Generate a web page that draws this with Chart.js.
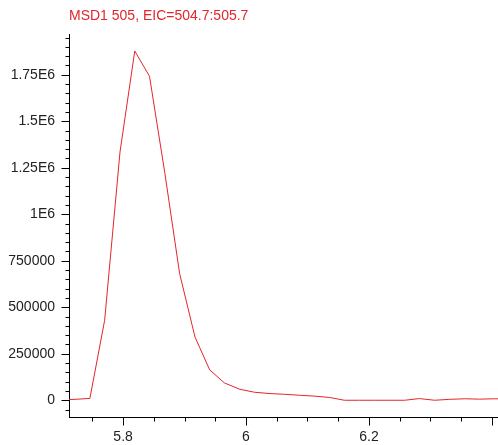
<!DOCTYPE html>
<html>
<head>
<meta charset="utf-8">
<script src="https://cdn.jsdelivr.net/npm/chart.js@4/dist/chart.umd.min.js"></script>
<style>
  html, body { margin: 0; padding: 0; background: #fff; }
  #wrap { width: 498px; height: 445px; position: relative; }
</style>
</head>
<body>
<div id="wrap"><canvas id="c" width="498" height="445"></canvas></div>
<script>
// Retention time (min)
const times = [5.697, 5.722, 5.746, 5.770, 5.795, 5.819, 5.843, 5.868, 5.892, 5.917,
               5.941, 5.965, 5.990, 6.014, 6.039, 6.063, 6.087, 6.112, 6.136, 6.160,
               6.185, 6.209, 6.234, 6.258, 6.282, 6.307, 6.331, 6.356, 6.380, 6.404, 6.429];
// Extracted ion intensity
const intensity = [3000, 5000, 10000, 430000, 1335000, 1878000, 1742000, 1220000, 681000, 340000,
                   163000, 93000, 59000, 43000, 36000, 32000, 27000, 22000, 15000, 0,
                   0, 0, 0, 0, 9000, 0, 5000, 8000, 6000, 8000, 7000];
const titleText = "MSD1 505, EIC=504.7:505.7";
const xRange = [5.712, 6.41];
const yRange = [-90000, 1965000];
const xStep = 0.05, xLabelStep = 0.2;
const yStep = 50000, yLabelStep = 250000;

const FONT = "'Liberation Sans', Arial, Helvetica, sans-serif";
const RED = '#e3262b';

function isMult(v, s) { const q = v / s; return Math.abs(q - Math.round(q)) < 1e-6; }
function makeTicks(min, max, step) {
  const out = [];
  for (let k = Math.ceil(min / step - 1e-9); k * step <= max + 1e-9; k++) {
    out.push({ value: +(k * step).toFixed(6) });
  }
  return out;
}
function yLabel(v) {
  if (!isMult(v, yLabelStep) || v < 0) return '';
  if (Math.abs(v) >= 1e6) return String(+(v / 1e6).toFixed(3)) + 'E6';
  return String(Math.round(v));
}
function xLabel(v) {
  if (!isMult(v, xLabelStep)) return '';
  if (v > xRange[1] - 0.02) return '';
  return String(+v.toFixed(2));
}

const tickMarks = {
  id: 'tickMarks',
  afterDraw(chart) {
    const ctx = chart.ctx;
    ctx.save();
    ctx.strokeStyle = '#000';
    ctx.lineWidth = 1;
    const xs = chart.scales.x, ys = chart.scales.y;
    const ca = chart.chartArea;
    const x0 = Math.round(ca.left) + 0.5;
    const yb = Math.round(ca.bottom) + 0.5;
    ys.ticks.forEach(t => {
      const p = Math.round(ys.getPixelForValue(t.value)) + 0.5;
      const len = isMult(t.value, yLabelStep) ? 8 : 4;
      ctx.beginPath(); ctx.moveTo(x0 - len, p); ctx.lineTo(x0, p); ctx.stroke();
    });
    xs.ticks.forEach(t => {
      const p = Math.round(xs.getPixelForValue(t.value)) + 0.5;
      const len = isMult(t.value, xLabelStep) ? 8 : 4;
      ctx.beginPath(); ctx.moveTo(p, yb); ctx.lineTo(p, yb + len); ctx.stroke();
    });
    ctx.restore();
  }
};

const gridOpts = { display: true, drawOnChartArea: false, drawTicks: true, tickLength: 8, tickColor: 'rgba(0,0,0,0)', color: 'rgba(0,0,0,0)' };

new Chart(document.getElementById('c'), {
  type: 'line',
  data: {
    datasets: [{
      data: times.map((t, i) => ({ x: t, y: intensity[i] })),
      borderColor: RED,
      borderWidth: 1,
      pointRadius: 0,
      tension: 0,
      fill: false
    }]
  },
  options: {
    responsive: false,
    devicePixelRatio: 1,
    animation: false,
    layout: { padding: 0 },
    plugins: {
      legend: { display: false },
      tooltip: { enabled: false },
      title: {
        display: true,
        text: titleText,
        color: RED,
        align: 'start',
        fullSize: false,
        font: { family: FONT, size: 14, weight: 'normal' },
        padding: { top: 8, bottom: 10 }
      }
    },
    scales: {
      x: {
        type: 'linear',
        min: xRange[0], max: xRange[1],
        afterBuildTicks: s => { s.ticks = makeTicks(xRange[0], xRange[1], xStep); },
        afterFit: s => { s.height = 28; },
        ticks: {
          autoSkip: false, maxRotation: 0,
          callback: v => xLabel(v),
          color: '#222', font: { family: FONT, size: 14 }, padding: 4
        },
        grid: gridOpts,
        border: { display: true, color: '#000', width: 1 }
      },
      y: {
        type: 'linear',
        min: yRange[0], max: yRange[1],
        afterBuildTicks: s => { s.ticks = makeTicks(yRange[0], yRange[1], yStep); },
        afterFit: s => { s.width = 69; },
        ticks: {
          autoSkip: false,
          callback: v => yLabel(v),
          color: '#222', font: { family: FONT, size: 14 }, padding: 6
        },
        grid: gridOpts,
        border: { display: true, color: '#000', width: 1 }
      }
    }
  },
  plugins: [tickMarks]
});
</script>
</body>
</html>
